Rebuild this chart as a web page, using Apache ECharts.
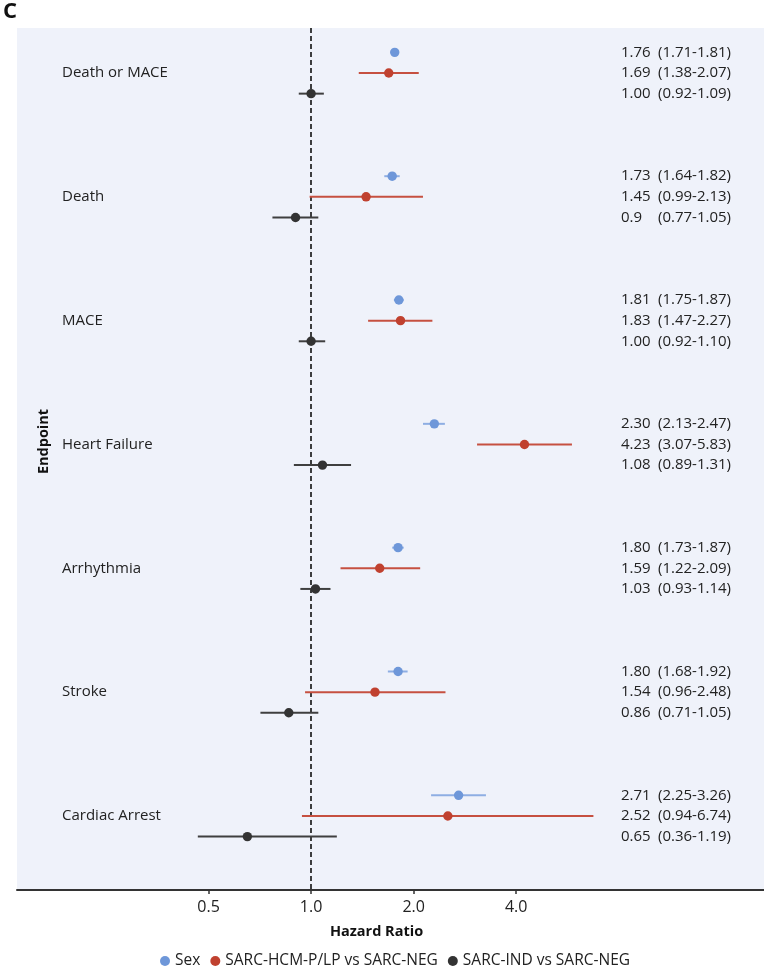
<!DOCTYPE html>
<html>
<head>
<meta charset="utf-8">
<script src="https://cdn.jsdelivr.net/npm/echarts@6/dist/echarts.min.js"></script>
<style>
html,body{margin:0;padding:0;background:#fff;}
#chart{width:764px;height:967px;}
</style>
</head>
<body>
<div id="chart"></div>
<script>
const endpoints = ['Death or MACE','Death','MACE','Heart Failure','Arrhythmia','Stroke','Cardiac Arrest'];
const seriesNames = ['Sex','SARC-HCM-P/LP vs SARC-NEG','SARC-IND vs SARC-NEG'];

const sexHR = [1.76,1.73,1.81,2.30,1.80,1.80,2.71];
const sexLo = [1.71,1.64,1.75,2.13,1.73,1.68,2.25];
const sexHi = [1.81,1.82,1.87,2.47,1.87,1.92,3.26];
const sexLabel = ['1.76','1.73','1.81','2.30','1.80','1.80','2.71'];

const hcmHR = [1.69,1.45,1.83,4.23,1.59,1.54,2.52];
const hcmLo = [1.38,0.99,1.47,3.07,1.22,0.96,0.94];
const hcmHi = [2.07,2.13,2.27,5.83,2.09,2.48,6.74];
const hcmLabel = ['1.69','1.45','1.83','4.23','1.59','1.54','2.52'];

const indHR = [1.00,0.90,1.00,1.08,1.03,0.86,0.65];
const indLo = [0.92,0.77,0.92,0.89,0.93,0.71,0.36];
const indHi = [1.09,1.05,1.10,1.31,1.14,1.05,1.19];
const indLabel = ['1.00','0.9','1.00','1.08','1.03','0.86','0.65'];
// lower whisker ends as drawn in the picture (Cardiac Arrest whisker is drawn shorter than its printed CI)
const indLoDrawn = [0.92,0.77,0.92,0.89,0.93,0.71,0.465];

const xTicks = [0.5,1.0,2.0,4.0];

const FONT = 'Open Sans';
const colors = ['#6e97d9','#c0412f','#333333'];
const lineColors = ['#8eaee3','#c65040','#3f3f3f'];
const offsets = [-1/6, 0, 1/6];

const groups = [
  {hr: sexHR, lo: sexLo, hi: sexHi, loDraw: sexLo, lab: sexLabel},
  {hr: hcmHR, lo: hcmLo, hi: hcmHi, loDraw: hcmLo, lab: hcmLabel},
  {hr: indHR, lo: indLo, hi: indHi, loDraw: indLoDrawn, lab: indLabel}
];

function fmtCI(lo, hi){ return '(' + lo.toFixed(2) + '-' + hi.toFixed(2) + ')'; }

const rows = [];
groups.forEach((g, si) => {
  g.hr.forEach((v, i) => {
    rows.push({pos: i + offsets[si], hr: g.lab[i], ci: fmtCI(g.lo[i], g.hi[i])});
  });
});

function makeSeries(si){
  const g = groups[si];
  const data = g.hr.map((v, i) => [Math.log2(v), Math.log2(g.loDraw[i]), Math.log2(g.hi[i]), i + offsets[si]]);
  const s = {
    name: seriesNames[si],
    type: 'custom',
    color: colors[si],
    itemStyle: {color: colors[si]},
    encode: {x: [0,1,2], y: 3},
    data: data,
    z: 3 + si,
    renderItem: function(params, api){
      const y = api.value(3);
      const p = api.coord([api.value(0), y]);
      const a = api.coord([api.value(1), y]);
      const b = api.coord([api.value(2), y]);
      return {type: 'group', children: [
        {type: 'line', shape: {x1: a[0], y1: a[1], x2: b[0], y2: b[1]}, style: {stroke: lineColors[si], lineWidth: 2}},
        {type: 'circle', shape: {cx: p[0], cy: p[1], r: 4.7}, style: {fill: colors[si]}}
      ]};
    }
  };
  if (si === 0) {
    s.markLine = {
      silent: true,
      symbol: 'none',
      label: {show: false},
      lineStyle: {color: '#111', type: [5, 3], width: 1.6},
      data: [{xAxis: 0}],
      z: 2
    };
  }
  return s;
}

const chart = echarts.init(document.getElementById('chart'));
chart.setOption({
  animation: false,
  textStyle: {fontFamily: FONT},
  graphic: [
    {type: 'text', left: 3, top: 1, style: {text: 'C', font: 'bold 22px "Open Sans"', fill: '#111'}}
  ],
  grid: {
    left: 17, right: 0, top: 28, bottom: 77,
    show: true, backgroundColor: '#eff2fa', borderWidth: 0
  },
  legend: {
    top: 948,
    left: 155,
    icon: 'circle',
    itemWidth: 10, itemHeight: 10, itemGap: 10,
    textStyle: {fontSize: 15.5, color: '#222', fontFamily: FONT},
    data: seriesNames
  },
  xAxis: {
    type: 'value',
    min: Math.log2(0.137),
    max: Math.log2(21.35),
    name: 'Hazard Ratio',
    nameLocation: 'middle',
    nameGap: 34,
    nameTextStyle: {fontWeight: 'bold', fontSize: 14.5, color: '#111', padding: [0, 28, 0, 0]},
    axisLine: {show: true, onZero: false, lineStyle: {color: '#333', width: 2}},
    axisTick: {show: true, length: 4, lineStyle: {color: '#333', width: 1.5}, customValues: xTicks.map(v => Math.log2(v))},
    axisLabel: {
      customValues: xTicks.map(v => Math.log2(v)),
      formatter: v => Math.pow(2, v).toFixed(1),
      fontSize: 16, color: '#222', margin: 9
    },
    splitLine: {show: false}
  },
  yAxis: [
    {
      type: 'value',
      inverse: true,
      min: -0.3634,
      max: 6.598,
      name: 'Endpoint',
      nameLocation: 'middle',
      nameRotate: 90,
      nameGap: -34,
      nameTextStyle: {fontWeight: 'bold', fontSize: 14.5, color: '#111', padding: [0, 0, 0, 35]},
      axisLine: {show: false},
      axisTick: {show: false},
      splitLine: {show: false},
      axisLabel: {
        inside: true,
        margin: 45,
        align: 'left',
        customValues: endpoints.map((e, i) => i),
        formatter: v => endpoints[Math.round(v)] || '',
        fontSize: 15, color: '#222'
      }
    },
    {
      type: 'value',
      inverse: true,
      position: 'right',
      min: -0.3634,
      max: 6.598,
      axisLine: {show: false},
      axisTick: {show: false},
      splitLine: {show: false},
      axisLabel: {
        inside: true,
        margin: 143,
        align: 'left',
        customValues: rows.map(r => r.pos),
        formatter: function(v){
          const r = rows.find(r => Math.abs(r.pos - v) < 1e-6);
          return r ? '{a|' + r.hr + '}{b|' + r.ci + '}' : '';
        },
        rich: {
          a: {width: 37, fontSize: 15, color: '#222', fontFamily: FONT},
          b: {fontSize: 15, color: '#222', fontFamily: FONT}
        }
      }
    }
  ],
  series: [makeSeries(0), makeSeries(1), makeSeries(2)]
});
</script>
</body>
</html>
